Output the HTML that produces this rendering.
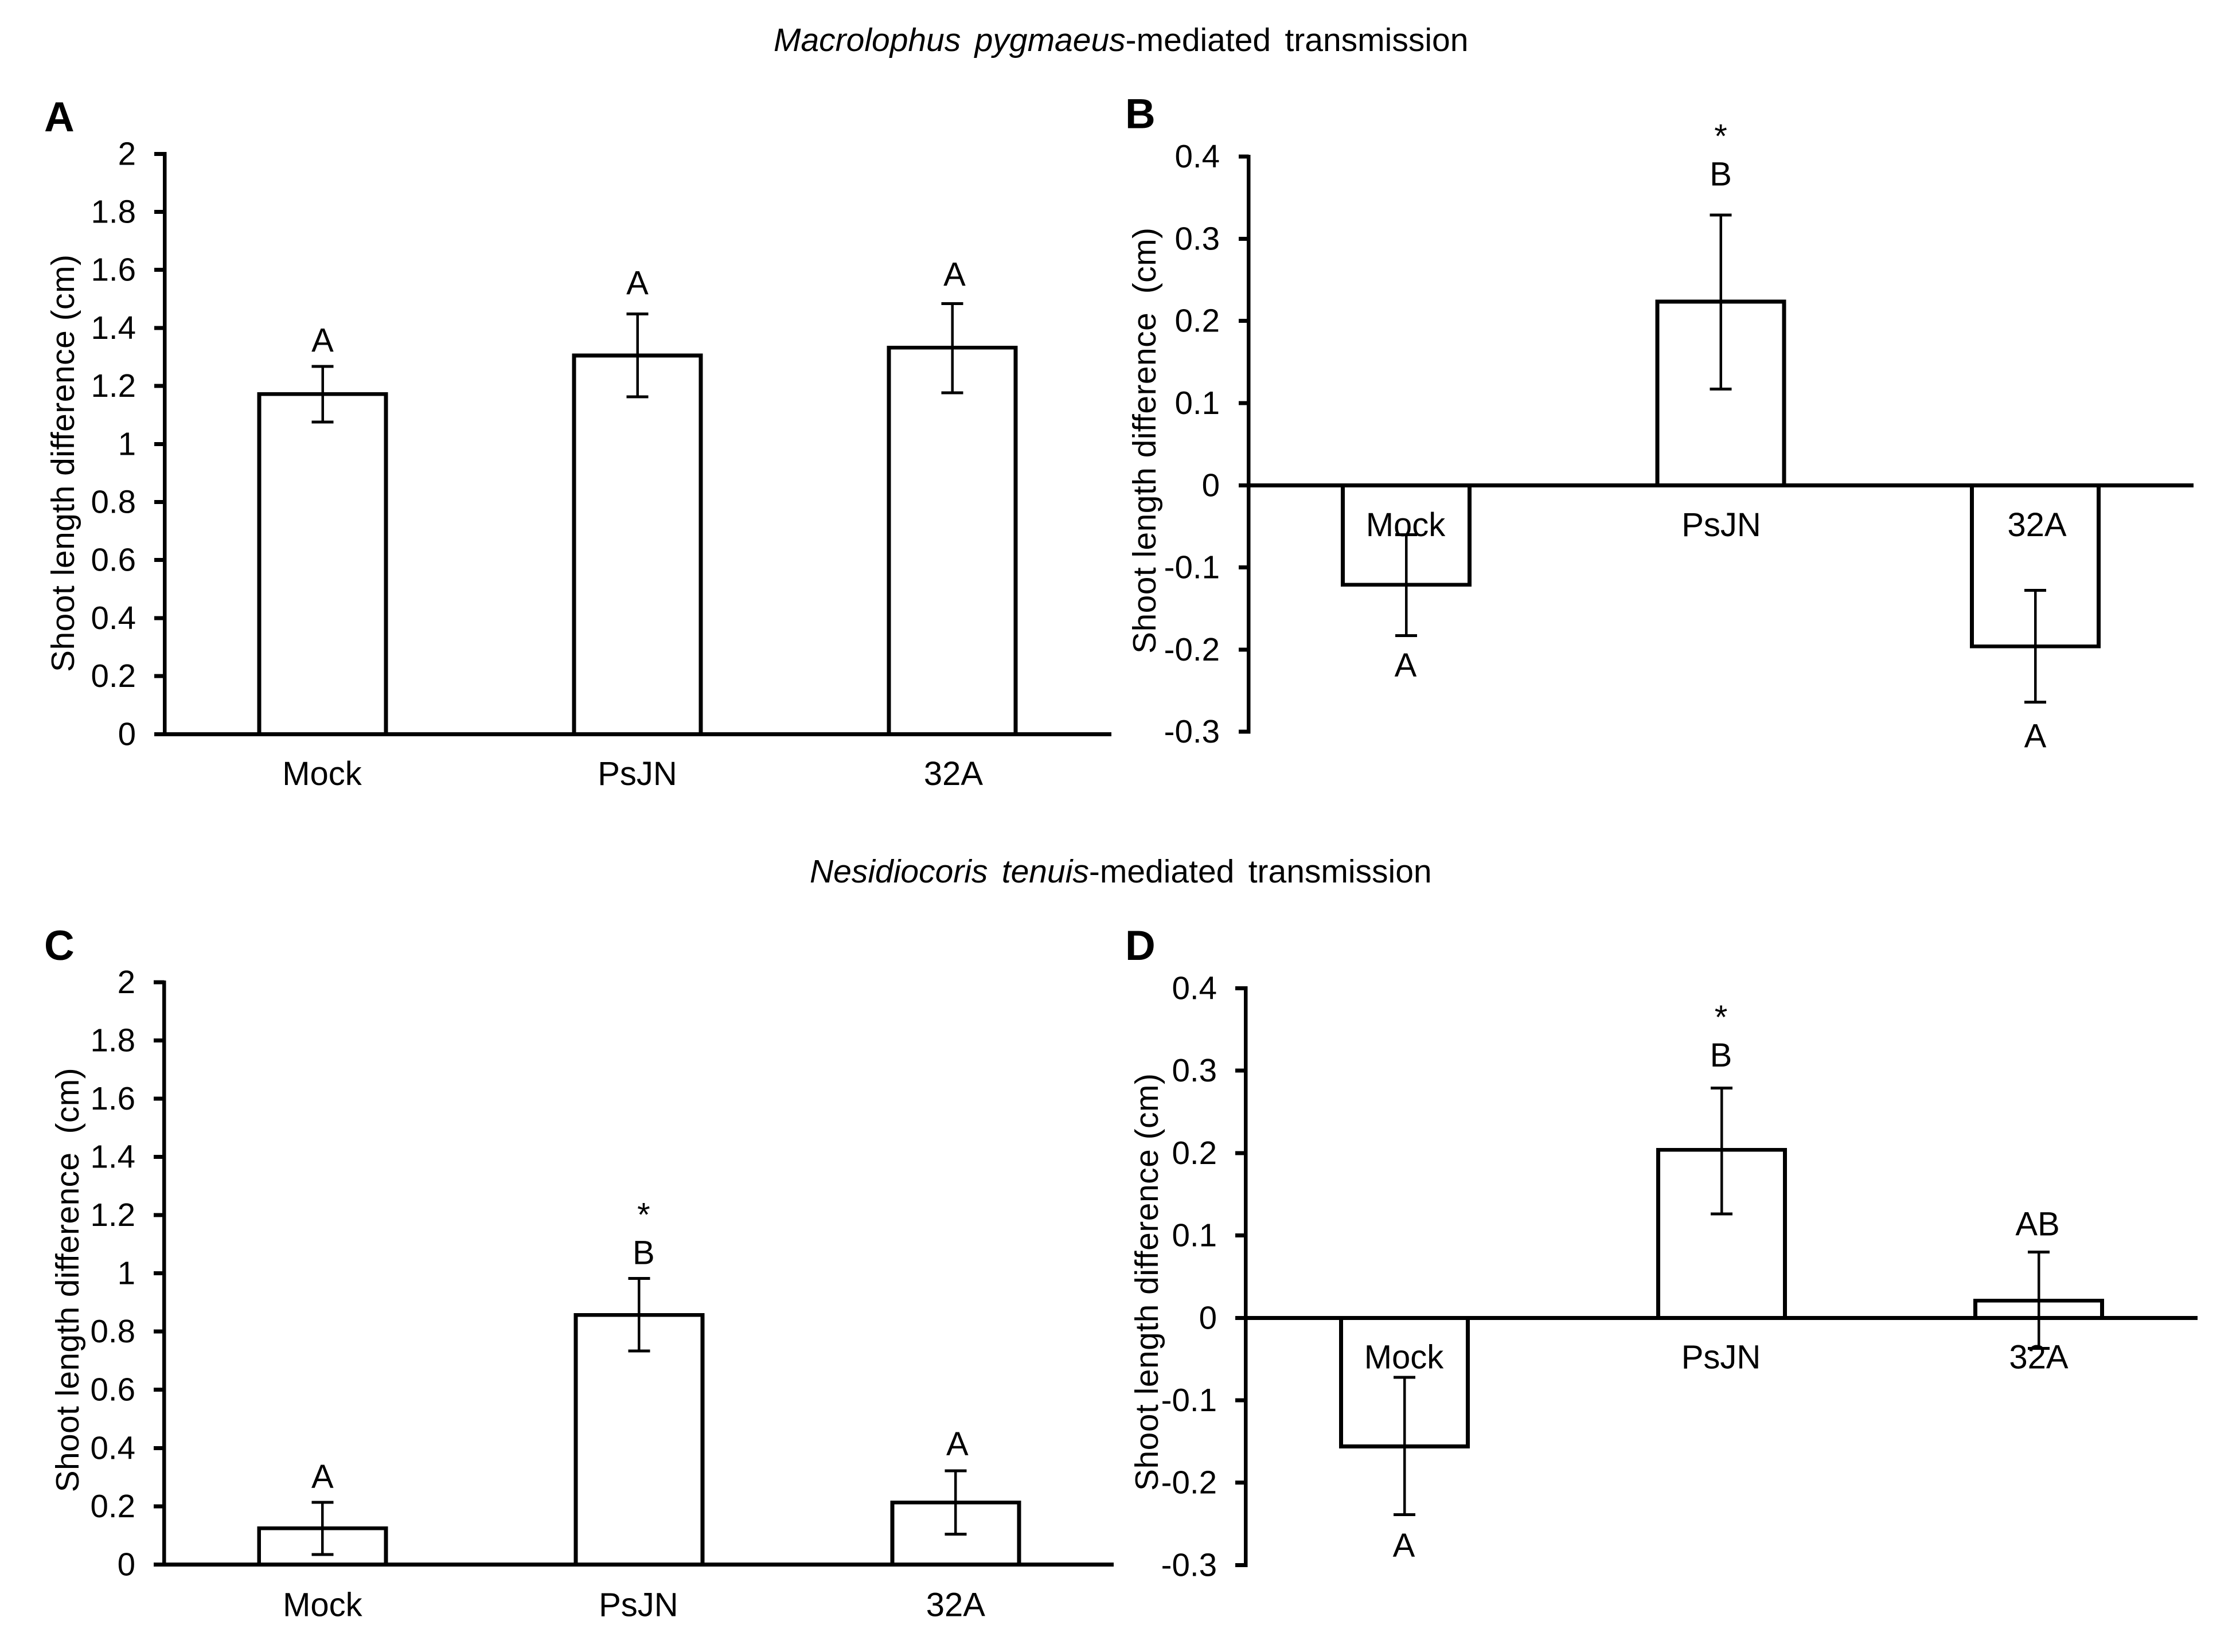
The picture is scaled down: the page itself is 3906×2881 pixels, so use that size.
<!DOCTYPE html>
<html lang="en">
<head>
<meta charset="utf-8">
<title>Shoot length difference by transmission</title>
<style>
html,body{margin:0;padding:0;background:#fff;width:3906px;height:2881px;overflow:hidden}
svg{display:block}
text{font-family:"Liberation Sans",Arial,sans-serif;font-size:58px;fill:#000;white-space:pre}
.panel-letter{font-weight:bold;font-size:73px}
.tick-label{font-size:56.5px}
.main-title{font-size:57px;word-spacing:8.5px}
.axis-title{font-size:57px}
line,rect{shape-rendering:crispEdges}
</style>
</head>
<body>
<svg id="figure" xmlns="http://www.w3.org/2000/svg" width="3906" height="2881" viewBox="0 0 3906 2881">
<rect x="0" y="0" width="3906" height="2881" fill="#fff"/>
<text class="main-title" x="1349" y="89"><tspan font-style="italic">Macrolophus pygmaeus</tspan>-mediated transmission</text>
<text class="main-title" x="1412" y="1539"><tspan font-style="italic">Nesidiocoris tenuis</tspan>-mediated transmission</text>
</svg>
<script>
const categories = ['Mock', 'PsJN', '32A'];

const ticksAB = ['0', '0.2', '0.4', '0.6', '0.8', '1', '1.2', '1.4', '1.6', '1.8', '2'];
const ticksNeg = ['-0.3', '-0.2', '-0.1', '0', '0.1', '0.2', '0.3', '0.4'];

const valuesA = [1.172, 1.305, 1.332];
const errHighA = [1.267, 1.448, 1.484];
const errLowA = [1.076, 1.163, 1.176];
const lettersA = ['A', 'A', 'A'];
const letterLevelA = [1.318, 1.515, 1.545];
const starLevelA = [null, null, null];

const valuesB = [-0.121, 0.2235, -0.196];
const errHighB = [-0.06, 0.329, -0.128];
const errLowB = [-0.183, 0.117, -0.264];
const lettersB = ['A', 'B', 'A'];
const letterLevelB = [-0.233, 0.365, -0.319];
const starLevelB = [null, 0.411, null];

const valuesC = [0.124, 0.857, 0.213];
const errHighC = [0.213, 0.983, 0.322];
const errLowC = [0.034, 0.733, 0.104];
const lettersC = ['A', 'B', 'A'];
const letterLevelC = [0.263, 1.032, 0.375];
const starLevelC = [null, 1.162, null];

const valuesD = [-0.156, 0.204, 0.021];
const errHighD = [-0.072, 0.279, 0.08];
const errLowD = [-0.239, 0.126, -0.037];
const lettersD = ['A', 'B', 'AB'];
const letterLevelD = [-0.29, 0.305, 0.1];
const starLevelD = [null, 0.351, null];

const NS = 'http://www.w3.org/2000/svg';
const fig = document.getElementById('figure');

function makeLine(parent, x1, y1, x2, y2, w) {
  const l = document.createElementNS(NS, 'line');
  l.setAttribute('x1', x1);
  l.setAttribute('y1', y1);
  l.setAttribute('x2', x2);
  l.setAttribute('y2', y2);
  l.setAttribute('stroke', '#000');
  l.setAttribute('stroke-width', w);
  l.setAttribute('stroke-linecap', 'square');
  parent.appendChild(l);
  return l;
}

function makeText(parent, x, y, str, anchor) {
  const t = document.createElementNS(NS, 'text');
  t.setAttribute('x', x);
  t.setAttribute('y', y);
  t.setAttribute('text-anchor', anchor);
  t.textContent = str;
  parent.appendChild(t);
  return t;
}

function drawPanel(p) {
  const g = document.createElementNS(NS, 'g');
  
  
  fig.appendChild(g);

  const y = v => p.yZero - p.yScale * v;
  const cx = i => p.xStart + p.xStep * (i + 0.5);

  const letter = makeText(g, p.letterX, p.letterY, p.id, 'start');
  letter.setAttribute('class', 'panel-letter');
  
  

  const title = makeText(g, 0, 0, p.yTitle, 'start');
  title.setAttribute('class', 'axis-title');
  title.setAttribute('transform', 'translate(' + p.titleX + ',' + p.titleY + ') rotate(-90)');
  title.setAttribute('textLength', p.titleLen);
  title.setAttribute('lengthAdjust', 'spacing');
  
  

  p.ticks.forEach(function (lab) {
    const ty = y(parseFloat(lab));
    const tick = makeLine(g, p.tickLeft, ty, p.axisX, ty, 7);
    tick.setAttribute('stroke-linecap', 'butt');
    
    
    const tl = makeText(g, p.tickRight, ty + 19, lab, 'end');
    tl.setAttribute('class', 'tick-label');
    
    
  });

  categories.forEach(function (cat, i) {
    const top = Math.min(y(p.values[i]), y(0));
    const rect = document.createElementNS(NS, 'rect');
    rect.setAttribute('x', cx(i) - 110.5);
    rect.setAttribute('y', top);
    rect.setAttribute('width', 221);
    rect.setAttribute('height', Math.abs(y(p.values[i]) - y(0)));
    rect.setAttribute('fill', '#fff');
    rect.setAttribute('stroke', '#000');
    rect.setAttribute('stroke-width', 6.7);
    
    
    g.appendChild(rect);
  });

  const yAxis = makeLine(g, p.axisX, y(p.yMax), p.axisX, y(p.yMin), 6.7);
  
  
  const xAxis = makeLine(g, p.tickLeft, y(0), p.axisEnd, y(0), 7);
  xAxis.setAttribute('stroke-linecap', 'butt');
  
  

  categories.forEach(function (cat, i) {
    const c = cx(i);
    const xl = makeText(g, c + p.catShift[i], p.catY, cat, 'middle');
    
    

    const stem = makeLine(g, c, y(p.errHigh[i]), c, y(p.errLow[i]), 4.5);
    stem.setAttribute('stroke-linecap', 'butt');
    
    
    const capT = makeLine(g, c - 19, y(p.errHigh[i]), c + 19, y(p.errHigh[i]), 5);
    capT.setAttribute('stroke-linecap', 'butt');
    
    
    const capB = makeLine(g, c - 19, y(p.errLow[i]), c + 19, y(p.errLow[i]), 5);
    capB.setAttribute('stroke-linecap', 'butt');
    
    

    const sig = makeText(g, c + p.letterShift[i], y(p.letterLevel[i]), p.letters[i], 'middle');
    
    

    if (p.starLevel[i] !== null) {
      const star = makeText(g, c + p.letterShift[i], y(p.starLevel[i]), '*', 'middle');
      
      
    }
  });
}

drawPanel({
  id: 'A', letterX: 77, letterY: 229,
  yTitle: 'Shoot length difference (cm)', titleX: 129, titleY: 1172, titleLen: 728,
  ticks: ticksAB, yMin: 0, yMax: 2, yZero: 1280.3, yScale: 506,
  axisX: 287.3, tickLeft: 269, axisEnd: 1938, tickRight: 237,
  xStart: 288, xStep: 549, catY: 1369, catShift: [-1, 0, 2], letterShift: [0, 0, 4],
  values: valuesA, errHigh: errHighA, errLow: errLowA,
  letters: lettersA, letterLevel: letterLevelA, starLevel: starLevelA
});

drawPanel({
  id: 'B', letterX: 1962, letterY: 223.5,
  yTitle: 'Shoot length difference  (cm)', titleX: 2015, titleY: 1140, titleLen: 743,
  ticks: ticksNeg, yMin: -0.3, yMax: 0.4, yZero: 846.3, yScale: 1433,
  axisX: 2177.3, tickLeft: 2160, axisEnd: 3825, tickRight: 2127,
  xStart: 2177.75, xStep: 548.5, catY: 935, catShift: [-1, 1, 3], letterShift: [-1, 0, 0],
  values: valuesB, errHigh: errHighB, errLow: errLowB,
  letters: lettersB, letterLevel: letterLevelB, starLevel: starLevelB
});

drawPanel({
  id: 'C', letterX: 77, letterY: 1674,
  yTitle: 'Shoot length difference  (cm)', titleX: 137, titleY: 2602.4, titleLen: 740,
  ticks: ticksAB, yMin: 0, yMax: 2, yZero: 2728.3, yScale: 507.6,
  axisX: 286.3, tickLeft: 268, axisEnd: 1942, tickRight: 236,
  xStart: 286.4, xStep: 552, catY: 2818.3, catShift: [0, -1, 0], letterShift: [0, 8, 3],
  values: valuesC, errHigh: errHighC, errLow: errLowC,
  letters: lettersC, letterLevel: letterLevelC, starLevel: starLevelC
});

drawPanel({
  id: 'D', letterX: 1962, letterY: 1674,
  yTitle: 'Shoot length difference (cm)', titleX: 2019, titleY: 2600, titleLen: 728,
  ticks: ticksNeg, yMin: -0.3, yMax: 0.4, yZero: 2298.3, yScale: 1437,
  axisX: 2172.3, tickLeft: 2154, axisEnd: 3832, tickRight: 2122,
  xStart: 2172.5, xStep: 553, catY: 2386.7, catShift: [-1, -1, 0], letterShift: [-1, -1, -2],
  values: valuesD, errHigh: errHighD, errLow: errLowD,
  letters: lettersD, letterLevel: letterLevelD, starLevel: starLevelD
});
</script>
</body>
</html>
